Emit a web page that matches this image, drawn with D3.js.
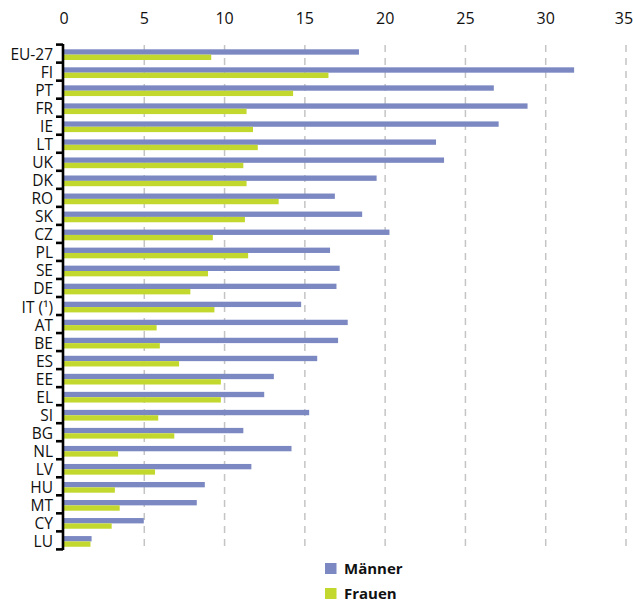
<!DOCTYPE html>
<html>
<head>
<meta charset="utf-8">
<script src="https://cdn.jsdelivr.net/npm/d3@7"></script>
<style>
  html, body { margin: 0; padding: 0; background: #fff; }
  svg { display: block; font-family: "Open Sans", "Noto Sans", sans-serif; }
</style>
</head>
<body>
<svg id="chart" width="633" height="602"></svg>
<script>
// Countries, top to bottom
const categories = ["EU-27", "FI", "PT", "FR", "IE", "LT", "UK", "DK", "RO", "SK", "CZ", "PL", "SE", "DE",
  "IT (¹)", "AT", "BE", "ES", "EE", "EL", "SI", "BG", "NL", "LV", "HU", "MT", "CY", "LU"];

const seriesNames = ["Männer", "Frauen"];

const maenner = [18.4, 31.8, 26.8, 28.9, 27.1, 23.2, 23.7, 19.5, 16.9, 18.6, 20.3, 16.6, 17.2, 17.0,
  14.8, 17.7, 17.1, 15.8, 13.1, 12.5, 15.3, 11.2, 14.2, 11.7, 8.8, 8.3, 5.0, 1.75];

const frauen = [9.2, 16.5, 14.3, 11.4, 11.8, 12.1, 11.2, 11.4, 13.4, 11.3, 9.3, 11.5, 9.0, 7.9,
  9.4, 5.8, 6.0, 7.2, 9.8, 9.8, 5.9, 6.9, 3.4, 5.7, 3.2, 3.5, 3.0, 1.68];

const xTicks = [0, 5, 10, 15, 20, 25, 30, 35];

const colors = { "Männer": "#7b88c2", "Frauen": "#c3d82f" };

const svg = d3.select("#chart");

const x = d3.scaleLinear().domain([0, 35]).range([63.5, 625.5]);
const y = d3.scaleBand().domain(categories).range([44.6, 549.4]).padding(0);
const ySub = d3.scaleBand().domain(seriesNames).range([4.7, 15.4]).padding(0);

// Dashed vertical grid with the value labels on top
const xAxis = d3.axisTop(x)
  .tickValues(xTicks)
  .tickFormat(d3.format("d"))
  .tickSize(-(549 - 45))
  .tickPadding(21);

const gx = svg.append("g")
  .attr("transform", "translate(0,45)")
  .call(xAxis);
gx.select(".domain").remove();
gx.selectAll(".tick line")
  .attr("stroke", "#c4c4c4")
  .attr("stroke-width", 1.5)
  .attr("stroke-dasharray", "7,6")
  .filter(d => d === 0).remove();
gx.selectAll(".tick text")
  .attr("fill", "#111")
  .attr("font-size", 16)
  .attr("font-family", "\"Open Sans\", sans-serif")
  .filter(d => d === 35).attr("dx", -2);

// Bars
const rows = categories.map((c, i) => ({ cat: c, values: [
  { key: "Männer", value: maenner[i] },
  { key: "Frauen", value: frauen[i] }
] }));

const groups = svg.append("g").selectAll("g")
  .data(rows)
  .join("g")
  .attr("transform", d => `translate(0,${y(d.cat)})`);

groups.selectAll("rect")
  .data(d => d.values)
  .join("rect")
  .attr("x", x(0))
  .attr("y", d => ySub(d.key))
  .attr("width", d => x(d.value) - x(0))
  .attr("height", ySub.bandwidth())
  .attr("fill", d => colors[d.key]);

// Category axis: bracket-style line with ticks on the band boundaries
const axisX = 63;
const boundaries = categories.map(c => y(c)).concat([y.range()[1]]);
const gy = svg.append("g");
gy.append("line")
  .attr("x1", axisX).attr("x2", axisX)
  .attr("y1", boundaries[0] - 0.5).attr("y2", boundaries[boundaries.length - 1] + 0.5)
  .attr("stroke", "#000").attr("stroke-width", 2.6);
gy.selectAll("line.tk")
  .data(boundaries)
  .join("line")
  .attr("class", "tk")
  .attr("x1", 56).attr("x2", axisX)
  .attr("y1", d => d).attr("y2", d => d)
  .attr("stroke", "#000").attr("stroke-width", 2.6);

gy.selectAll("text")
  .data(categories)
  .join("text")
  .attr("x", 53)
  .attr("y", d => y(d) + y.bandwidth() / 2 + 6.5)
  .attr("text-anchor", "end")
  .attr("font-size", 15.5)
  .attr("fill", "#111")
  .text(d => d);

// Legend
const legend = svg.append("g").selectAll("g")
  .data(seriesNames)
  .join("g")
  .attr("transform", (d, i) => `translate(325,${563 + i * 25})`);
legend.append("rect")
  .attr("width", 11.5).attr("height", 11)
  .attr("fill", d => colors[d]);
legend.append("text")
  .attr("x", 19)
  .attr("y", 11)
  .attr("font-size", 15)
  .attr("font-weight", "bold")
  .attr("fill", "#111")
  .text(d => d);
</script>
</body>
</html>
